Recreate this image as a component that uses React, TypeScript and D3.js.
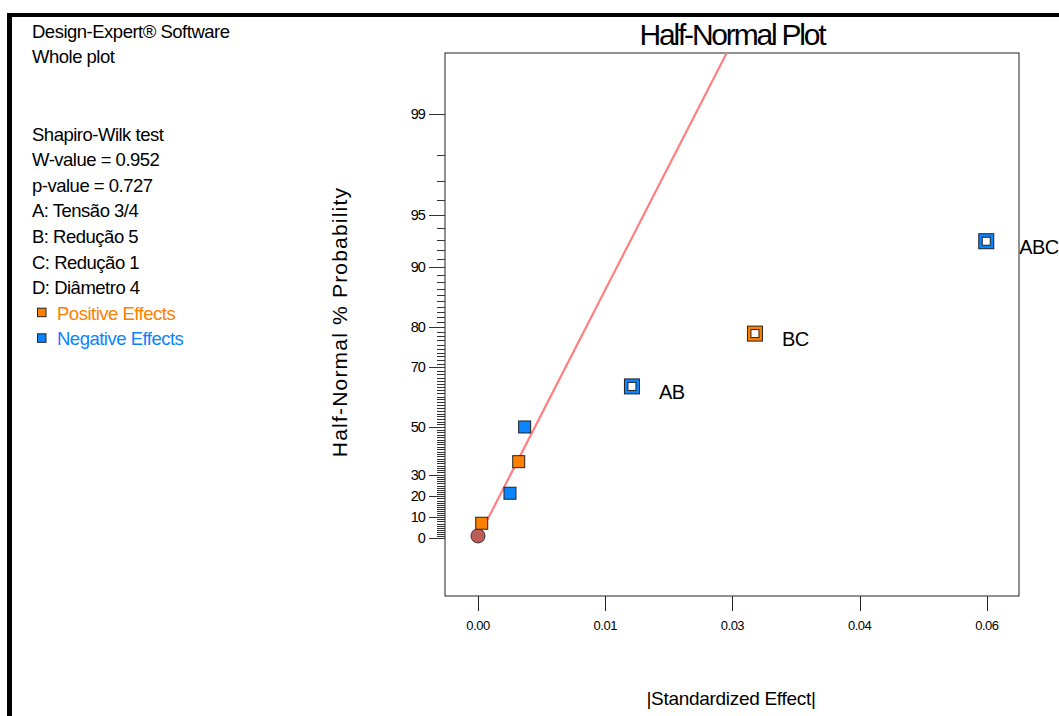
import React from "react";
import * as d3 from "d3";

// ---- data ----
const effectNames = ["", "", "", "", "AB", "BC", "ABC"];
const effectValues = [0.00044, 0.00377, 0.0048, 0.0055, 0.01815, 0.03265, 0.05992];
const effectProbs = [7.14, 21.43, 35.71, 50.0, 64.29, 78.57, 92.86];
const effectSigns = ["pos", "neg", "pos", "neg", "neg", "pos", "neg"];
const errorPoint = { value: 0, prob: 1.0 };
const lineSlope = 0.00995; // |effect| per unit half-normal quantile
const lineStartProb = 7.14;

const xTickValues = [0, 0.015, 0.03, 0.045, 0.06];
const xTickLabels = ["0.00", "0.01", "0.03", "0.04", "0.06"];
const yMajorTicks = [0, 10, 20, 30, 50, 70, 80, 90, 95, 99];
const yMinorTicks = d3.range(1, 100).filter((v) => !yMajorTicks.includes(v));

const infoLines = [
  "Shapiro-Wilk test",
  "W-value = 0.952",
  "p-value = 0.727",
  "A: Tensão 3/4",
  "B: Redução 5",
  "C: Redução 1",
  "D: Diâmetro 4",
];
const legendItems = [
  { label: "Positive Effects", key: "pos" },
  { label: "Negative Effects", key: "neg" },
];

// ---- helpers ----
function invNorm(p: number): number {
  const a = [-3.969683028665376e1, 2.209460984245205e2, -2.759285104469687e2, 1.38357751867269e2, -3.066479806614716e1, 2.506628277459239];
  const b = [-5.447609879822406e1, 1.615858368580409e2, -1.556989798598866e2, 6.680131188771972e1, -1.328068155288572e1];
  const c = [-7.784894002430293e-3, -3.223964580411365e-1, -2.400758277161838, -2.549732539343734, 4.374664141464968, 2.938163982698783];
  const d = [7.784695709041462e-3, 3.224671290700398e-1, 2.445134137142996, 3.754408661907416];
  const pl = 0.02425;
  if (p < pl) {
    const q = Math.sqrt(-2 * Math.log(p));
    return (((((c[0] * q + c[1]) * q + c[2]) * q + c[3]) * q + c[4]) * q + c[5]) / ((((d[0] * q + d[1]) * q + d[2]) * q + d[3]) * q + 1);
  }
  if (p > 1 - pl) {
    const q = Math.sqrt(-2 * Math.log(1 - p));
    return -(((((c[0] * q + c[1]) * q + c[2]) * q + c[3]) * q + c[4]) * q + c[5]) / ((((d[0] * q + d[1]) * q + d[2]) * q + d[3]) * q + 1);
  }
  const q = p - 0.5;
  const r = q * q;
  return ((((((a[0] * r + a[1]) * r + a[2]) * r + a[3]) * r + a[4]) * r + a[5]) * q) / (((((b[0] * r + b[1]) * r + b[2]) * r + b[3]) * r + b[4]) * r + 1);
}
const halfZ = (pct: number) => (pct <= 0 ? 0 : invNorm(0.5 + pct / 200));

const COLORS: Record<string, string> = { pos: "#ff8000", neg: "#0a84ff" };
const FONT = "'Liberation Sans', Arial, sans-serif";

export default function App() {
  const W = 1059, H = 716;
  const plot = { left: 445, right: 1019, top: 53, bottom: 596 };

  const x = d3.scaleLinear().domain([-0.00389, 0.06378]).range([plot.left, plot.right]);
  const y = d3.scaleLinear().domain([-0.3524, 2.9465]).range([plot.bottom, plot.top]);

  const zTop = y.invert(plot.top);
  const lineData: [number, number][] = [
    [lineSlope * halfZ(lineStartProb), halfZ(lineStartProb)],
    [lineSlope * zTop, zTop],
  ];
  const linePath = d3
    .line<[number, number]>()
    .x((d) => x(d[0]))
    .y((d) => y(d[1]))(lineData);

  const points = effectValues.map((v, i) => ({
    v,
    p: effectProbs[i],
    name: effectNames[i],
    sign: effectSigns[i],
  }));

  return (
    <svg
      width={W}
      height={H}
      style={{ position: "absolute", left: 0, top: 0, background: "#fff" }}
      fontFamily={FONT}
    >
      {/* outer window frame */}
      <rect x={7} y={13} width={W - 7} height={4} fill="#000" />
      <rect x={7} y={13} width={5} height={H - 13} fill="#000" />

      {/* info text */}
      <g fontSize={18.5} letterSpacing={-0.5} fill="#000">
        <text x={32} y={38}>Design-Expert® Software</text>
        <text x={32} y={63}>Whole plot</text>
        {infoLines.map((t, i) => (
          <text key={t} x={32} y={140.5 + i * 25.6}>
            {t}
          </text>
        ))}
        {legendItems.map((it, i) => {
          const by = 140.5 + (infoLines.length + i) * 25.6;
          return (
            <g key={it.key}>
              <rect x={37.5} y={by - 11.5} width={8.5} height={8.5} fill={COLORS[it.key]} stroke="#222" strokeWidth={1} />
              <text x={57} y={by} fill={COLORS[it.key]}>
                {it.label}
              </text>
            </g>
          );
        })}
      </g>

      {/* title */}
      <text x={732} y={45} textAnchor="middle" fontSize={30} letterSpacing={-2.2} fill="#000">
        Half-Normal Plot
      </text>

      {/* plot frame */}
      <rect
        x={plot.left}
        y={plot.top}
        width={plot.right - plot.left}
        height={plot.bottom - plot.top}
        fill="none"
        stroke="#222"
        strokeWidth={1}
      />

      {/* y ticks */}
      <g stroke="#333" strokeWidth={1}>
        {yMinorTicks.map((t) => (
          <line key={"m" + t} x1={plot.left - 8} x2={plot.left} y1={Math.round(y(halfZ(t))) + 0.5} y2={Math.round(y(halfZ(t))) + 0.5} />
        ))}
        {yMajorTicks.map((t) => (
          <line key={"M" + t} x1={plot.left - 16} x2={plot.left} y1={Math.round(y(halfZ(t))) + 0.5} y2={Math.round(y(halfZ(t))) + 0.5} />
        ))}
      </g>
      <g fontSize={14.5} letterSpacing={-0.9} textAnchor="end" fill="#000">
        {yMajorTicks.map((t) => (
          <text key={t} x={425} y={y(halfZ(t)) + 5}>
            {t}
          </text>
        ))}
      </g>

      {/* x ticks */}
      <g stroke="#222" strokeWidth={1}>
        {xTickValues.map((t) => (
          <line key={t} x1={Math.round(x(t)) + 0.5} x2={Math.round(x(t)) + 0.5} y1={plot.bottom} y2={plot.bottom + 15} />
        ))}
      </g>
      <g fontSize={13} letterSpacing={-0.5} textAnchor="middle" fill="#000">
        {xTickValues.map((t, i) => (
          <text key={t} x={x(t)} y={630}>
            {xTickLabels[i]}
          </text>
        ))}
      </g>

      {/* axis titles */}
      <text x={731} y={705} textAnchor="middle" fontSize={19} letterSpacing={-0.3} fill="#000">
        |Standardized Effect|
      </text>
      <text
        transform={`translate(347,322) rotate(-90)`}
        textAnchor="middle"
        fontSize={21}
        letterSpacing={1.2}
        fill="#000"
      >
        Half-Normal % Probability
      </text>

      {/* fit line */}
      <path d={linePath || ""} fill="none" stroke="#ff8080" strokeWidth={2.2} />

      {/* error point */}
      <circle cx={x(errorPoint.value)} cy={y(halfZ(errorPoint.prob))} r={7} fill="#bd5c58" stroke="#333" strokeWidth={1} />

      {/* effects */}
      {points.map((pt, i) => {
        const cx = x(pt.v);
        const cy = y(halfZ(pt.p));
        if (pt.name) {
          const labelDx = cx + 40 > plot.right ? 33 : 27;
          return (
            <g key={i}>
              <rect x={cx - 7.5} y={cy - 7.5} width={15} height={15} fill={COLORS[pt.sign]} stroke="#222" strokeWidth={1} />
              <rect x={cx - 4} y={cy - 4} width={8} height={8} fill="#fff" stroke="#222" strokeWidth={1} />
              <text x={cx + labelDx} y={cy + 12.5} fontSize={20} letterSpacing={-0.6} fill="#000">
                {pt.name}
              </text>
            </g>
          );
        }
        return (
          <rect key={i} x={cx - 6} y={cy - 6} width={12} height={12} fill={COLORS[pt.sign]} stroke="#222" strokeWidth={1} />
        );
      })}
    </svg>
  );
}
